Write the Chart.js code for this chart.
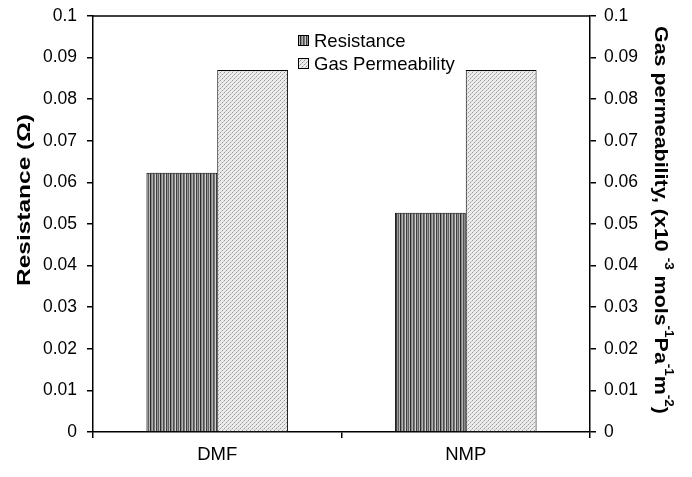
<!DOCTYPE html>
<html>
<head>
<meta charset="utf-8">
<script src="https://cdn.jsdelivr.net/npm/chart.js@4.4.0/dist/chart.umd.min.js"></script>
<style>
  html, body { margin: 0; padding: 0; background: #fff; }
  #wrap { width: 692px; height: 477px; position: relative; }
</style>
</head>
<body>
<div id="wrap"><canvas id="myChart"></canvas></div>
<script>
const categories = ["DMF", "NMP"];
const resistance = [0.0623, 0.0527];
const gasPermeability = [0.087, 0.087];
const tickValues = [0, 0.01, 0.02, 0.03, 0.04, 0.05, 0.06, 0.07, 0.08, 0.09, 0.1];

function stripePattern() {
    const c = document.createElement("canvas");
    c.width = 10; c.height = 4;
    const g = c.getContext("2d");
    const cols = ["#2a2a2a", "#888", "#b0b0b0", "#505050", "#777", "#d0d0d0", "#404040", "#969696", "#606060", "#bcbcbc"];
    cols.forEach((col, i) => { g.fillStyle = col; g.fillRect(i, 0, 1, 4); });
    return g.createPattern(c, "repeat");
}
function stipplePattern() {
    const c = document.createElement("canvas");
    c.width = 4; c.height = 4;
    const g = c.getContext("2d");
    g.fillStyle = "#ececec";
    g.fillRect(0, 0, 4, 4);
    g.fillStyle = "#999";
    g.fillRect(0, 0, 1, 1);
    g.fillRect(2, 2, 1, 1);
    g.fillStyle = "#c4c4c4";
    g.fillRect(1, 3, 1, 1);
    g.fillRect(3, 1, 1, 1);
    return g.createPattern(c, "repeat");
}

const fills = { res: stripePattern(), gas: stipplePattern() };
const FONT = "'Liberation Sans', Arial, sans-serif";

// draw text along a rotated baseline, stretched to a given length
function stretchedText(ctx, parts, cx, cy, angle, length, bigFont, smallFont, supShift) {
    let total = 0;
    parts.forEach(([t, sup]) => {
        ctx.font = sup ? smallFont : bigFont;
        total += ctx.measureText(t).width;
    });
    ctx.save();
    ctx.translate(cx, cy);
    ctx.rotate(angle);
    ctx.scale(length / total, 1);
    ctx.textBaseline = "middle";
    ctx.textAlign = "left";
    let x = -total / 2;
    parts.forEach(([t, sup]) => {
        ctx.font = sup ? smallFont : bigFont;
        ctx.fillText(t, x, sup ? -supShift : 0);
        x += ctx.measureText(t).width;
    });
    ctx.restore();
}

const titlesAndLegend = {
    id: "titlesAndLegend",
    afterDraw(chart) {
        const ctx = chart.ctx;
        const area = chart.chartArea;
        ctx.save();
        ctx.fillStyle = "#000";

        // top frame line
        ctx.strokeStyle = "#000";
        ctx.lineWidth = 1.5;
        ctx.beginPath();
        ctx.moveTo(area.left, area.top);
        ctx.lineTo(area.right, area.top);
        ctx.stroke();

        stretchedText(ctx, [["Resistance (\u03a9)", false]], 25, 200, -Math.PI / 2, 172,
            "bold 19px " + FONT, "bold 12px " + FONT, 0);

        stretchedText(ctx, [
            ["Gas permeability, (x10 ", false],
            ["-3", true],
            [" mols", false],
            ["-1", true],
            ["Pa", false],
            ["-1", true],
            ["m", false],
            ["-2", true],
            [")", false],
        ], 660, 220, Math.PI / 2, 388, "bold 19px " + FONT, "bold 12px " + FONT, 8);

        // legend
        const items = [["Resistance", fills.res], ["Gas Permeability", fills.gas]];
        ctx.font = "18.5px " + FONT;
        ctx.textBaseline = "middle";
        items.forEach(([label, f], i) => {
            const y = 41 + i * 23;
            ctx.fillStyle = f;
            ctx.fillRect(298, y - 5, 10, 10);
            ctx.strokeStyle = "#000";
            ctx.lineWidth = 1;
            ctx.strokeRect(298.5, y - 5.5, 10, 10);
            ctx.fillStyle = "#000";
            ctx.fillText(label, 314, y + 1);
        });
        ctx.restore();
    },
};

const tickFont = { family: FONT, size: 17.5, lineHeight: 1 };
function yAxis(position, padding, width) {
    return {
        position,
        min: 0,
        max: 0.1,
        afterBuildTicks: (s) => { s.ticks = tickValues.map((v) => ({ value: v })); },
        afterFit: (s) => {
            s.width = width;
            s.paddingTop = 0;
            s.paddingBottom = 0;
        },
        ticks: {
            color: "#000",
            font: tickFont,
            padding,
            callback: (v) => String(v),
        },
        grid: { drawOnChartArea: false, drawTicks: true, tickLength: 6, color: "#000", lineWidth: 1.5 },
        border: { display: true, color: "#000", width: 1.5 },
    };
}

new Chart(document.getElementById("myChart"), {
    type: "bar",
    data: {
        labels: categories,
        datasets: [
            {
                label: "Resistance",
                data: resistance,
                backgroundColor: fills.res,
                borderColor: "#000",
                borderWidth: 1,
                yAxisID: "y",
            },
            {
                label: "Gas Permeability",
                data: gasPermeability,
                backgroundColor: fills.gas,
                borderColor: "#000",
                borderWidth: 1,
                yAxisID: "y2",
            },
        ],
    },
    options: {
        responsive: true,
        maintainAspectRatio: false,
        animation: false,
        layout: { padding: { top: 16, left: 0, right: 0, bottom: 0 } },
        datasets: { bar: { barPercentage: 1, categoryPercentage: 0.57 } },
        plugins: { legend: { display: false }, tooltip: { enabled: false } },
        scales: {
            x: {
                afterFit: (s) => { s.height = 45; },
                ticks: { color: "#000", font: { family: FONT, size: 18.5 }, padding: 6 },
                grid: { drawOnChartArea: false, drawTicks: true, tickLength: 6, color: "#000", offset: true, lineWidth: 1.5 },
                border: { display: true, color: "#000", width: 1.5 },
            },
            y: yAxis("left", 10, 93),
            y2: yAxis("right", 8, 102),
        },
    },
    plugins: [titlesAndLegend],
});
</script>
</body>
</html>
